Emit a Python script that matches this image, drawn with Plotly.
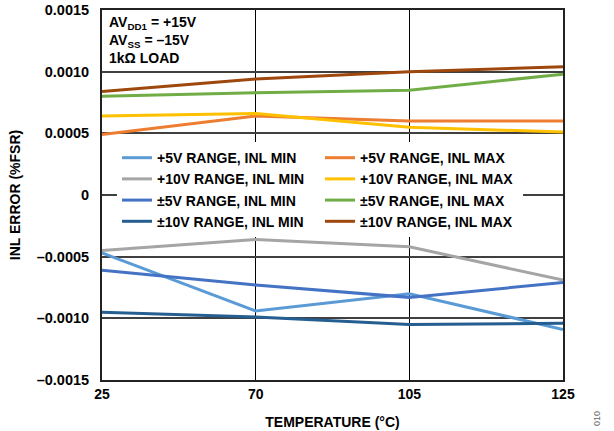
import plotly.graph_objects as go

temps = ["25", "70", "105", "125"]

plus5_min = [-0.00047, -0.00094, -0.00080, -0.00109]
plus5_max = [0.00049, 0.00064, 0.00060, 0.00060]
plus10_min = [-0.00045, -0.00036, -0.00042, -0.00069]
plus10_max = [0.00064, 0.00066, 0.00055, 0.00051]
pm5_min = [-0.00061, -0.00073, -0.00083, -0.00071]
pm5_max = [0.00080, 0.00083, 0.00085, 0.00098]
pm10_min = [-0.00095, -0.00099, -0.00105, -0.00104]
pm10_max = [0.00084, 0.00094, 0.00100, 0.00104]

series = [
    ("+5V RANGE, INL MIN", plus5_min, "#5B9BD5"),
    ("+5V RANGE, INL MAX", plus5_max, "#ED7D31"),
    ("+10V RANGE, INL MIN", plus10_min, "#A5A5A5"),
    ("+10V RANGE, INL MAX", plus10_max, "#FFC000"),
    ("±5V RANGE, INL MIN", pm5_min, "#4472C4"),
    ("±5V RANGE, INL MAX", pm5_max, "#70AD47"),
    ("±10V RANGE, INL MIN", pm10_min, "#255E91"),
    ("±10V RANGE, INL MAX", pm10_max, "#9E480E"),
]

y_ticks = [-0.0015, -0.0010, -0.0005, 0, 0.0005, 0.0010, 0.0015]
y_ticktext = ["–0.0015", "–0.0010", "–0.0005", "0", "0.0005", "0.0010", "0.0015"]

FONT = "Liberation Sans, Arial, sans-serif"

fig = go.Figure()
for name, vals, color in series:
    fig.add_trace(go.Scatter(x=temps, y=vals, mode="lines", name=name,
                             line=dict(color=color, width=3)))

fig.update_layout(
    width=614, height=431,
    margin=dict(l=102, r=51, t=10, b=51),
    paper_bgcolor="white", plot_bgcolor="white",
    font=dict(family=FONT, size=14, color="black", weight="bold"),
    showlegend=True,
    legend=dict(
        orientation="h", x=0.0325, y=0.643, xanchor="left", yanchor="top",
        bgcolor="white", borderwidth=0,
        font=dict(family=FONT, size=14, color="black", weight="bold"),
        entrywidth=158, entrywidthmode="pixels", itemwidth=30,
        traceorder="normal",
    ),
    xaxis=dict(
        type="category", categoryorder="array", categoryarray=temps,
        range=[0, 3], showgrid=True, gridcolor="black", gridwidth=1,
        showline=True, linecolor="#222", linewidth=2, mirror=True,
        automargin=False,
        ticks="", tickfont=dict(family=FONT, size=14, weight="bold"),
        title=dict(text="TEMPERATURE (°C)", standoff=16,
                   font=dict(family=FONT, size=14, weight="bold")),
        zeroline=False,
    ),
    yaxis=dict(
        range=[-0.0015, 0.0015], tickvals=y_ticks, ticktext=y_ticktext,
        showgrid=True, gridcolor="#404040", gridwidth=1.5,
        showline=True, linecolor="#222", linewidth=2, mirror=True,
        automargin=False,
        ticks="", ticklabelstandoff=8,
        tickfont=dict(family=FONT, size=14.5, weight="bold"),
        title=dict(text="INL ERROR (%FSR)", standoff=13,
                   font=dict(family=FONT, size=14, weight="bold")),
        zeroline=False,
    ),
    annotations=[
        dict(text="AV<sub>DD1</sub> = +15V<br>AV<sub>SS</sub> = –15V<br>1kΩ LOAD",
             xref="paper", yref="paper", x=0.011, y=0.994,
             xanchor="left", yanchor="top", align="left", showarrow=False,
             font=dict(family=FONT, size=14, color="black", weight="bold")),
        dict(text="010", xref="paper", yref="paper", x=1.074, y=-0.105,
             xanchor="center", yanchor="middle", textangle=-90, showarrow=False,
             font=dict(family=FONT, size=9, color="#666", weight="normal")),
    ],
)

fig.write_html("out.html", config={"displayModeBar": False},
               post_script="document.body.style.margin='0';document.body.style.padding='0';")
